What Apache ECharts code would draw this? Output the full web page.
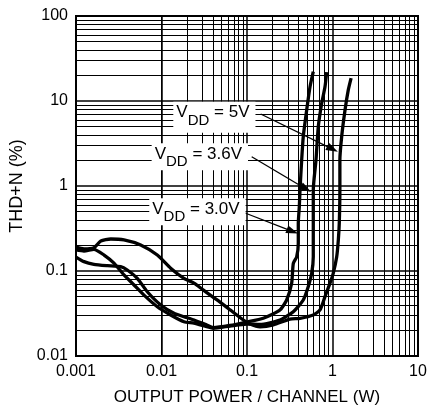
<!DOCTYPE html>
<html>
<head>
<meta charset="utf-8">
<script src="https://cdn.jsdelivr.net/npm/echarts@6/dist/echarts.min.js"></script>
<style>
  html, body { margin: 0; padding: 0; background: #fff; }
  #chart { width: 427px; height: 415px; }
</style>
</head>
<body>
<div id="chart"></div>
<script>
// tick labels
const xTicks = ['0.001', '0.01', '0.1', '1', '10'];
const yTicks = ['0.01', '0.1', '1', '10', '100'];

// VDD = 5V  (output power W, THD+N %)
const p5 = [0.001, 0.00124, 0.00162, 0.00195, 0.00255, 0.00364, 0.00571, 0.00893, 0.0128, 0.0183,
  0.024, 0.0306, 0.0442, 0.0632, 0.0905, 0.108, 0.142, 0.203, 0.318, 0.417,
  0.596, 0.714, 0.817, 0.935, 1.02, 1.12, 1.17, 1.2, 1.22, 1.22, 1.28, 1.4, 1.53, 1.65];
const thd5 = [0.191, 0.182, 0.188, 0.225, 0.238, 0.232, 0.202, 0.154, 0.108, 0.082,
  0.072, 0.06, 0.046, 0.035, 0.0265, 0.0238, 0.0221, 0.0232, 0.0272, 0.0278,
  0.0304, 0.0348, 0.05, 0.072, 0.094, 0.147, 0.232, 0.364, 0.9, 2.02, 3.8, 7.8, 13.5, 18.6];

// VDD = 3.6V
const p36 = [0.001, 0.00124, 0.00162, 0.00213, 0.00278, 0.00364, 0.00477, 0.00624, 0.00893, 0.0128,
  0.0183, 0.024, 0.0338, 0.0403, 0.0632, 0.0991, 0.142, 0.243, 0.348, 0.455,
  0.52, 0.571, 0.596, 0.596, 0.596, 0.641, 0.682, 0.748, 0.817, 0.855];
const thd36 = [0.177, 0.172, 0.18, 0.154, 0.124, 0.09, 0.0685, 0.052, 0.038, 0.0304,
  0.0253, 0.0243, 0.0221, 0.0212, 0.0225, 0.0238, 0.0235, 0.0265, 0.0332, 0.0456,
  0.0653, 0.094, 0.147, 0.364, 0.897, 2.02, 4.99, 9.39, 14.7, 21.9];

// VDD = 3.0V
const p30 = [0.001, 0.00124, 0.00162, 0.00232, 0.00333, 0.00398, 0.00521, 0.00682, 0.0098, 0.014,
  0.0183, 0.024, 0.0338, 0.0403, 0.0632, 0.0991, 0.155, 0.243, 0.291, 0.333,
  0.348, 0.381, 0.398, 0.398, 0.409, 0.417, 0.436, 0.455, 0.499, 0.546, 0.596];
const thd30 = [0.146, 0.129, 0.12, 0.1155, 0.1124, 0.1028, 0.082, 0.057, 0.0398, 0.0318,
  0.029, 0.0265, 0.0232, 0.0216, 0.0229, 0.0251, 0.0278, 0.0348, 0.0456, 0.0717,
  0.123, 0.147, 0.212, 0.364, 0.57, 0.897, 2.02, 3.8, 7.83, 14.7, 22.1];

// callouts: label, box top-left, arrow start, arrow head (data coords)
const noteNames = ['5V', '3.6V', '3.0V'];
const noteBox = [[0.01374, 9.82], [0.00767, 3.18], [0.00719, 0.716]];
const arrowFrom = [[0.1445, 7.03], [0.1135, 2.21], [0.0949, 0.481]];
const arrowTo = [[1.0, 2.72], [0.49, 0.922], [0.34, 0.292]];

// minor log grid lines (2..9 of each decade)
const decadesX = [0.001, 0.01, 0.1, 1];
const decadesY = [0.01, 0.1, 1, 10];
const minorX = [], minorY = [];
decadesX.forEach(d => { for (let m = 2; m <= 9; m++) minorX.push(+(d * m).toPrecision(3)); });
decadesY.forEach(d => { for (let m = 2; m <= 9; m++) minorY.push(+(d * m).toPrecision(3)); });

const FONT = '"Liberation Sans", Arial, sans-serif';
const pairs = (xs, ys) => xs.map((x, i) => [x, ys[i]]);

const curve = (name, data) => ({
  name, type: 'line', data, z: 3,
  smooth: 0.2, symbol: 'none',
  lineStyle: {color: '#000', width: 3.3},
  silent: true
});

const chart = echarts.init(document.getElementById('chart'));

const option = {
  animation: false,
  backgroundColor: '#fff',
  grid: {
    left: 76, right: 9, top: 16, bottom: 59,
    containLabel: false, outerBoundsMode: 'none',
    show: true, borderColor: '#000', borderWidth: 2, backgroundColor: 'transparent'
  },
  xAxis: {
    type: 'log', logBase: 10, min: 0.001, max: 10,
    name: 'OUTPUT POWER / CHANNEL (W)', nameLocation: 'middle', nameGap: 33,
    nameTextStyle: {color: '#000', fontSize: 17, fontFamily: FONT},
    axisLine: {lineStyle: {color: '#000', width: 2}},
    axisTick: {show: false},
    axisLabel: {color: '#000', fontSize: 16, fontFamily: FONT, margin: 8,
      formatter: (v, i) => xTicks[i]},
    splitLine: {show: true, lineStyle: {color: '#000', width: 1.5}}
  },
  yAxis: {
    type: 'log', logBase: 10, min: 0.01, max: 100,
    name: 'THD+N (%)', nameLocation: 'middle', nameGap: 46,
    nameTextStyle: {color: '#000', fontSize: 18, fontFamily: FONT},
    axisLine: {lineStyle: {color: '#000', width: 2}},
    axisTick: {show: false},
    axisLabel: {color: '#000', fontSize: 16, fontFamily: FONT, margin: 8,
      formatter: (v, i) => yTicks[i]},
    splitLine: {show: true, lineStyle: {color: '#000', width: 1.5}}
  },
  series: [
    {
      type: 'line', data: [], z: 1, silent: true,
      markLine: {
        silent: true, symbol: ['none', 'none'], label: {show: false},
        lineStyle: {color: '#000', width: 1, type: 'solid'},
        emphasis: {disabled: true},
        data: minorX.map(v => ({xAxis: v})).concat(minorY.map(v => ({yAxis: v})))
      }
    },
    curve('VDD = 5V', pairs(p5, thd5)),
    curve('VDD = 3.6V', pairs(p36, thd36)),
    curve('VDD = 3.0V', pairs(p30, thd30)),
    {
      type: 'line', data: [], z: 10, silent: true,
      markLine: {
        silent: true, symbol: ['none', 'triangle'], symbolSize: [8, 12],
        label: {show: false},
        lineStyle: {color: '#000', width: 1.3, type: 'solid'},
        itemStyle: {color: '#000'},
        emphasis: {disabled: true},
        data: arrowFrom.map((f, i) => [{coord: f}, {coord: arrowTo[i]}])
      }
    }
  ]
};

chart.setOption(option);

// white callout boxes with subscripted VDD
const ctx = document.createElement('canvas').getContext('2d');
const textWidth = (t, size) => { ctx.font = size + 'px ' + FONT; return ctx.measureText(t).width; };

const graphics = [];
noteNames.forEach((name, i) => {
  const [px, py] = chart.convertToPixel({gridIndex: 0}, noteBox[i]);
  const rest = ' = ' + name;
  const wV = textWidth('V', 17), wD = textWidth('DD', 15), wR = textWidth(rest, 17);
  const w = 3 + wV + wD + wR + 6;
  const h = i === 0 ? 31 : 27;
  graphics.push(
    {type: 'rect', x: px, y: py, z: 100, shape: {x: 0, y: 0, width: w, height: h}, style: {fill: '#ffffff', stroke: null}},
    {type: 'text', x: px + 3, y: py + 11, z: 101, style: {text: 'V', font: '17px ' + FONT, fill: '#000', verticalAlign: 'middle'}},
    {type: 'text', x: px + 3 + wV, y: py + 19, z: 101, style: {text: 'DD', font: '15px ' + FONT, fill: '#000', verticalAlign: 'middle'}},
    {type: 'text', x: px + 3 + wV + wD, y: py + 11, z: 101, style: {text: rest, font: '17px ' + FONT, fill: '#000', verticalAlign: 'middle'}}
  );
});

chart.setOption({graphic: graphics});
</script>
</body>
</html>
